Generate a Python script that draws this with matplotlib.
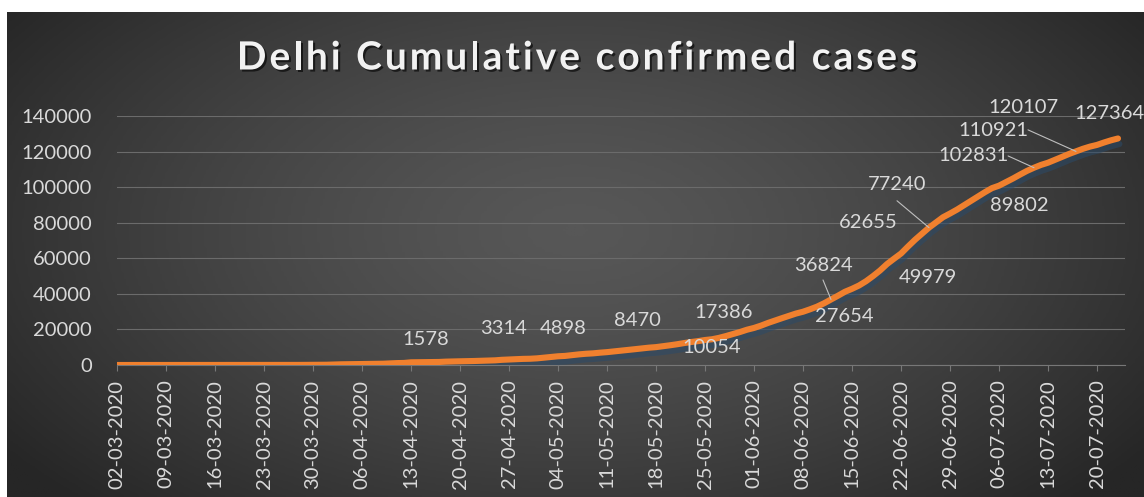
import numpy as np
import pandas as pd
import matplotlib
matplotlib.use("Agg")
import matplotlib.pyplot as plt
import matplotlib.dates as mdates
from matplotlib import patheffects as pe
from matplotlib.colors import LinearSegmentedColormap

# Daily cumulative confirmed cases in Delhi, 02-03-2020 .. 23-07-2020
START_DATE = "2020-03-02"
CASES_MAR = [1, 1, 1, 2, 3, 3, 3, 4, 4, 5, 6, 7, 7, 7, 7, 8, 10, 12, 17, 26,
             29, 30, 31, 35, 36, 39, 49, 72, 87, 97]
CASES_APR = [152, 293, 386, 445, 503, 523, 576, 669, 720, 903, 1069, 1154, 1510,
             1561, 1578, 1640, 1707, 1893, 2003, 2081, 2156, 2248, 2376, 2514,
             2625, 2918, 3108, 3314, 3439, 3515]
CASES_MAY = [3738, 4122, 4549, 4898, 5104, 5532, 5980, 6318, 6542, 6923, 7233,
             7639, 7998, 8470, 8895, 9333, 9755, 10054, 10554, 11088, 11659,
             12319, 12910, 13418, 14053, 14465, 15257, 16281, 17386, 18549, 19844]
CASES_JUN = [20834, 22132, 23645, 25004, 26334, 27654, 28936, 29943, 31309,
             32810, 34687, 36824, 38958, 41182, 42829, 44688, 47102, 49979,
             53116, 56746, 59746, 62655, 66602, 70390, 73780, 77240, 80188,
             83077, 85161, 87360]
CASES_JUL = [89802, 92175, 94695, 97200, 99444, 100823, 102831, 104864, 107051,
             109140, 110921, 112494, 113740, 115346, 116993, 118645, 120107,
             121582, 122793, 123747, 125096, 126323, 127364]

# points that carry a data label
LABEL_DATES = ["2020-04-15", "2020-04-28", "2020-05-04", "2020-05-14", "2020-05-18",
               "2020-05-29", "2020-06-06", "2020-06-12", "2020-06-18", "2020-06-22",
               "2020-06-26", "2020-07-01", "2020-07-07", "2020-07-11", "2020-07-17",
               "2020-07-23"]

Y_TICKS = [0, 20000, 40000, 60000, 80000, 100000, 120000, 140000]
TICK_END = "2020-07-20"
TITLE = "Delhi Cumulative confirmed cases"

# label placement (offset pixels from the point) and leader lines
LABEL_OFFSETS = [(1, 23), (-12, 31), (5, 28), (9, 29), (56, 0), (-9, 22), (55, -1),
                 (-8, 34), (55, -1), (-33, 31), (-32, 43), (55, 0), (-33, 27),
                 (-41, 37), (-53, 44), (-9, 25)]
LEADERS = {
    "2020-06-12": ("2020-06-12", (0.5, -0.35)),
    "2020-06-26": ("2020-06-26", (0.5, -0.45)),
    "2020-07-07": ("2020-07-11", (1.0, 0.45)),
    "2020-07-11": ("2020-07-17", (1.0, 0.55)),
}

TXT = "#d9d9d9"
ORANGE = "#F0802E"

plt.rcParams["font.family"] = ["Lato", "DejaVu Sans"]

cases = CASES_MAR + CASES_APR + CASES_MAY + CASES_JUN + CASES_JUL
dates = pd.date_range(START_DATE, periods=len(cases), freq="D")
series = pd.Series(cases, index=dates)

W, H = 1144, 497
fig = plt.figure(figsize=(W / 100, H / 100), dpi=100, facecolor="white")

# dark radial background (Excel style)
bg = fig.add_axes([7 / W, 0, (W - 7) / W, (H - 12) / H], zorder=0)
gx, gy = np.meshgrid(np.linspace(0, 1, 400), np.linspace(0, 1, 200))
r = np.sqrt(((gx - 0.5) / 0.62) ** 2 + ((gy - 0.45) / 0.8) ** 2)
grad = np.clip(r, 0, 1) ** 1.4
cmap = LinearSegmentedColormap.from_list("bg", ["#575757", "#262626"])
bg.imshow(grad, cmap=cmap, aspect="auto", extent=[0, 1, 0, 1], vmin=0, vmax=1)
bg.axis("off")

ax = fig.add_axes([117 / W, 132 / H, 1008 / W, 249 / H], zorder=1)
ax.patch.set_alpha(0)

ax.plot(dates, series.values, color=ORANGE, lw=4.4, solid_capstyle="round",
        solid_joinstyle="round", zorder=3,
        path_effects=[pe.SimpleLineShadow(offset=(1, -4), shadow_color="#2b4a68", alpha=0.55),
                      pe.Normal()])

labels = {}
for d, (dx, dy) in zip(LABEL_DATES, LABEL_OFFSETS):
    ts = pd.Timestamp(d)
    val = series[ts]
    t = ax.annotate(str(val), (ts, val), xytext=(dx, dy), textcoords="offset pixels",
                    ha="center", va="center", fontsize=14.5, color=TXT,
                    zorder=5, annotation_clip=False)
    labels[d] = t

for d, (target, frac) in LEADERS.items():
    ts = pd.Timestamp(target)
    ax.annotate("", xy=(ts, series[ts]), xytext=frac, textcoords=labels[d],
                arrowprops=dict(arrowstyle="-", color="#bfbfbf", lw=0.8,
                                shrinkA=0, shrinkB=0), zorder=4, annotation_clip=False)

ax.set_xlim(dates[0], dates[0] + pd.Timedelta(days=144))
ax.set_ylim(0, 140000)

xt = pd.date_range(START_DATE, TICK_END, freq="7D")
ax.set_xticks(xt)
ax.xaxis.set_major_formatter(mdates.DateFormatter("%d-%m-%Y"))
ax.set_yticks(Y_TICKS)
ax.set_yticklabels([str(v) for v in Y_TICKS])

ax.tick_params(axis="y", length=0, pad=18, labelsize=14.5, labelcolor=TXT)
ax.tick_params(axis="x", length=4.5, width=0.8, color="#777777", pad=6,
               labelsize=14.5, labelcolor=TXT, labelrotation=90)

ax.yaxis.grid(True, color="#6b6b6b", lw=0.8)
ax.set_axisbelow(True)
for s in ("top", "right", "left"):
    ax.spines[s].set_visible(False)
ax.spines["bottom"].set_color("#777777")
ax.spines["bottom"].set_linewidth(0.8)

# title with Excel-like letter spacing: place characters one by one
renderer = fig.canvas.get_renderer()
title_kw = dict(fontsize=28, fontweight="bold", color="#f2f2f2", va="center",
                path_effects=[pe.withSimplePatchShadow(offset=(1.5, -1.5),
                                                       shadow_rgbFace="black", alpha=0.6)])
tracking = 3.0  # px between characters


def prefix_width(s):
    if not s:
        return 0.0
    probe = fig.text(0, 0, s + "|", **title_kw)
    bar = fig.text(0, 0, "|", **title_kw)
    w = probe.get_window_extent(renderer).width - bar.get_window_extent(renderer).width
    probe.remove()
    bar.remove()
    return w


full = prefix_width(TITLE) + tracking * (len(TITLE) - 1)
x0 = 577 - full / 2
for i, ch in enumerate(TITLE):
    if ch == " ":
        continue
    xpix = x0 + prefix_width(TITLE[:i]) + tracking * i
    fig.text(xpix / W, 1 - 58 / H, ch, ha="left", **title_kw)

fig.savefig("out.png", dpi=100, facecolor="white")
